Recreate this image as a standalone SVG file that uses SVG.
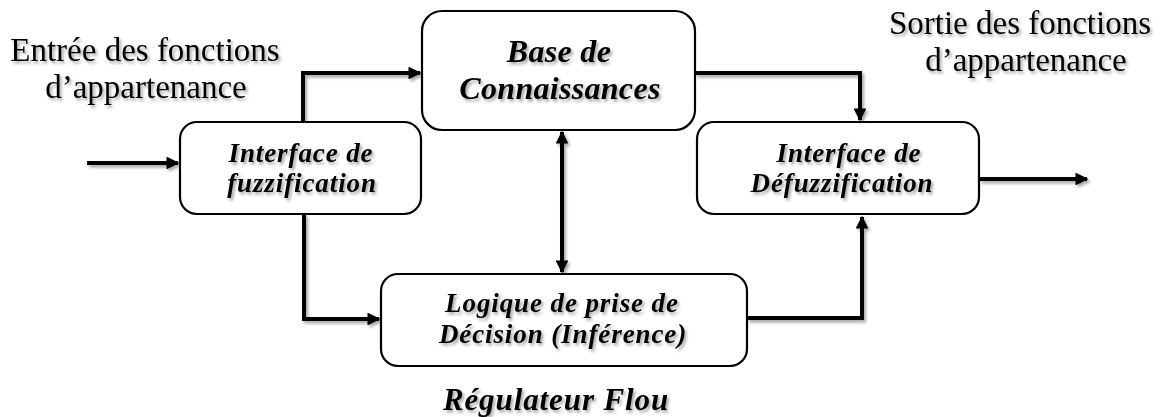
<svg xmlns="http://www.w3.org/2000/svg" width="1163" height="417" viewBox="0 0 1163 417">
<defs>
<filter id="sh" x="-10%" y="-30%" width="120%" height="160%">
<feDropShadow dx="2" dy="2.5" stdDeviation="1.5" flood-color="#000" flood-opacity="0.35"/>
</filter>
<marker id="ah" viewBox="0 0 10 10" refX="9" refY="5" markerWidth="3.2" markerHeight="3.2" orient="auto-start-reverse" markerUnits="strokeWidth">
<path d="M0,0 L10,5 L0,10 Z" fill="#000"/>
</marker>
</defs>
<style>
.box{fill:#fff;stroke:#000;stroke-width:2.2}
.lbl{font-family:"Liberation Serif","Times New Roman",serif;font-weight:bold;font-style:italic;font-size:27px;letter-spacing:0.9px;text-anchor:middle;fill:#000}
.ext{font-family:"Liberation Serif","Times New Roman",serif;font-size:33px;text-anchor:middle;fill:#000}
.con{fill:none;stroke:#000;stroke-width:4;stroke-linejoin:miter}
</style>
<rect width="1163" height="417" fill="#fff"/>

<g id="in-label" filter="url(#sh)">
<text class="ext" x="145" y="61">Entrée des fonctions</text>
<text class="ext" x="146" y="98">d’appartenance</text>
</g>
<g id="out-label" filter="url(#sh)">
<text class="ext" x="1020" y="34">Sortie des fonctions</text>
<text class="ext" x="1026" y="71">d’appartenance</text>
</g>

<g id="connectors" filter="url(#sh)">
<path class="con" d="M87,163 H178" marker-end="url(#ah)"/>
<path class="con" d="M303,122 V73 H420" marker-end="url(#ah)"/>
<path class="con" d="M304,214 V319 H379" marker-end="url(#ah)"/>
<path class="con" d="M695,73 H860 V120" marker-end="url(#ah)"/>
<path class="con" d="M562,132 V272" marker-start="url(#ah)" marker-end="url(#ah)"/>
<path class="con" d="M747,318 H862 V217" marker-end="url(#ah)"/>
<path class="con" d="M979,179 H1087" marker-end="url(#ah)"/>
</g>

<g id="fuzzification">
<rect class="box" x="180" y="122" width="241" height="92" rx="17"/>
<g filter="url(#sh)">
<text class="lbl" x="301" y="162">Interface de</text>
<text class="lbl" x="302" y="192">fuzzification</text>
</g>
</g>

<g id="base">
<rect class="box" x="422" y="11" width="273" height="119" rx="20"/>
<g filter="url(#sh)">
<text class="lbl" x="559" y="62" style="font-size:32px;letter-spacing:0.3px">Base de</text>
<text class="lbl" x="560" y="99" style="font-size:32px;letter-spacing:0.3px">Connaissances</text>
</g>
</g>

<g id="defuzzification">
<rect class="box" x="697" y="122" width="282" height="92" rx="17"/>
<g filter="url(#sh)">
<text class="lbl" x="849" y="162">Interface de</text>
<text class="lbl" x="842" y="192">Défuzzification</text>
</g>
</g>

<g id="logique">
<rect class="box" x="381" y="274" width="366" height="92" rx="17"/>
<g filter="url(#sh)">
<text class="lbl" x="562" y="312">Logique de prise de</text>
<text class="lbl" x="563" y="343">Décision (Inférence)</text>
</g>
</g>

<g id="title" filter="url(#sh)">
<text class="lbl" x="556" y="410" style="font-size:31px;letter-spacing:0.9px">Régulateur Flou</text>
</g>
</svg>
